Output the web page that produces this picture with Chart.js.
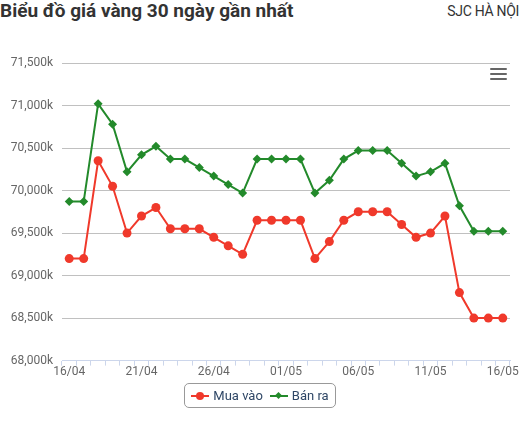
<!DOCTYPE html>
<html lang="vi">
<head>
<meta charset="utf-8">
<title>Biểu đồ giá vàng</title>
<script src="https://cdn.jsdelivr.net/npm/chart.js@4"></script>
<style>
    html, body { margin: 0; padding: 0; background: #fff; }
    body { width: 520px; height: 423px; position: relative; overflow: hidden; font-family: Roboto, "Noto Sans", sans-serif; }
    .chart-title { position: absolute; left: 0; top: -1px; font-size: 19px; font-weight: bold; color: #333; white-space: nowrap; }
    .chart-sub { position: absolute; right: 1px; top: 3px; font-size: 14px; color: #333; letter-spacing: -0.3px; }
    #goldChart { position: absolute; left: 0; top: 0; }
    .menu-btn { position: absolute; left: 490px; top: 68px; width: 17px; }
    .menu-btn span { display: block; height: 2.4px; background: #666; border-radius: 1px; margin-bottom: 2.6px; }
    .legend-wrap { position: absolute; left: 0; top: 383px; width: 520px; text-align: center; }
    .legend { display: inline-flex; align-items: center; border: 1px solid #999; border-radius: 5px; padding: 0 6px 0 6px; height: 23px; font-size: 13px; color: #2f4766; }
    .legend-item { display: inline-flex; align-items: center; margin-right: 7px; }
    .legend-item:last-child { margin-right: 0; }
    .legend-sym { position: relative; width: 18px; height: 10px; margin-right: 4px; }
    .legend-sym .ln { position: absolute; left: 0; top: 4px; width: 18px; height: 2px; }
    .legend-sym .dot { position: absolute; left: 5px; top: 1px; width: 8px; height: 8px; border-radius: 50%; }
    .legend-sym .dia { position: absolute; left: 6.5px; top: 2.5px; width: 5px; height: 5px; transform: rotate(45deg); }
</style>
</head>
<body>
<div class="chart-title">Biểu đồ giá vàng 30 ngày gần nhất</div>
<div class="chart-sub">SJC HÀ NỘI</div>
<canvas id="goldChart" width="520" height="423"></canvas>
<div class="menu-btn"><span></span><span></span><span></span></div>
<div class="legend-wrap"><div class="legend" id="legend"></div></div>

<script>
// Dates (dd/mm)
const dates = [
    '16/04', '17/04', '18/04', '19/04', '20/04', '21/04', '22/04', '23/04', '24/04', '25/04',
    '26/04', '27/04', '28/04', '29/04', '30/04', '01/05', '02/05', '03/05', '04/05', '05/05',
    '06/05', '07/05', '08/05', '09/05', '10/05', '11/05', '12/05', '13/05', '14/05', '15/05', '16/05'
];

// Buy price (thousand VND / luong)
const muaVao = [
    69200, 69200, 70350, 70050, 69500, 69700, 69800, 69550, 69550, 69550,
    69450, 69350, 69250, 69650, 69650, 69650, 69650, 69200, 69400, 69650,
    69750, 69750, 69750, 69600, 69450, 69500, 69700, 68800, 68500, 68500, 68500
];

// Sell price (thousand VND / luong)
const banRa = [
    69870, 69870, 71020, 70780, 70220, 70420, 70520, 70370, 70370, 70270,
    70170, 70070, 69970, 70370, 70370, 70370, 70370, 69970, 70120, 70370,
    70470, 70470, 70470, 70320, 70170, 70220, 70320, 69820, 69520, 69520, 69520
];

// Y axis range
const yMin = 68000;
const yMax = 71500;
const yStep = 500;

const RED = '#f0392b';
const GREEN = '#238a2b';

document.addEventListener('DOMContentLoaded', () => {
    const ctx = document.getElementById('goldChart').getContext('2d');
    const chart = new Chart(ctx, {
        type: 'line',
        data: {
            labels: dates,
            datasets: [{
                label: 'Mua vào',
                data: muaVao,
                borderColor: RED,
                backgroundColor: RED,
                borderWidth: 2,
                pointStyle: 'circle',
                pointRadius: 4.5,
                pointBorderWidth: 0,
                tension: 0
            }, {
                label: 'Bán ra',
                data: banRa,
                borderColor: GREEN,
                backgroundColor: GREEN,
                borderWidth: 2,
                pointStyle: 'rectRot',
                pointRadius: 4.5,
                pointBorderWidth: 0,
                tension: 0
            }]
        },
        options: {
            responsive: false,
            animation: false,
            layout: { padding: { top: 63, left: 0, right: 10, bottom: 45 } },
            plugins: {
                legend: { display: false },
                tooltip: { enabled: false }
            },
            scales: {
                x: {
                    offset: true,
                    grid: { offset: true, drawOnChartArea: false, drawTicks: true, tickLength: 5, color: '#ccd6eb' },
                    border: { color: '#ccd6eb' },
                    ticks: {
                        autoSkip: false,
                        maxRotation: 0,
                        padding: -1,
                        color: '#666',
                        font: { family: 'Roboto', size: 12 },
                        callback: function (val, i) { return i % 5 === 0 ? this.getLabelForValue(val) : ''; }
                    }
                },
                y: {
                    min: yMin,
                    max: yMax,
                    afterFit: scale => { scale.width = 62; },
                    grid: { color: '#c0c0c0', drawTicks: false },
                    border: { display: false },
                    ticks: {
                        stepSize: yStep,
                        padding: 9,
                        color: '#666',
                        font: { family: 'Roboto', size: 12 },
                        callback: v => v.toLocaleString('en-US') + 'k'
                    }
                }
            }
        }
    });

    // HTML legend built from the datasets
    const legend = document.getElementById('legend');
    chart.data.datasets.forEach(ds => {
        const item = document.createElement('span');
        item.className = 'legend-item';
        const mark = ds.pointStyle === 'circle' ? 'dot' : 'dia';
        item.innerHTML = '<span class="legend-sym"><span class="ln" style="background:' + ds.borderColor + '"></span>' +
            '<span class="' + mark + '" style="background:' + ds.borderColor + '"></span></span>' + ds.label;
        legend.appendChild(item);
    });
});
</script>
</body>
</html>
